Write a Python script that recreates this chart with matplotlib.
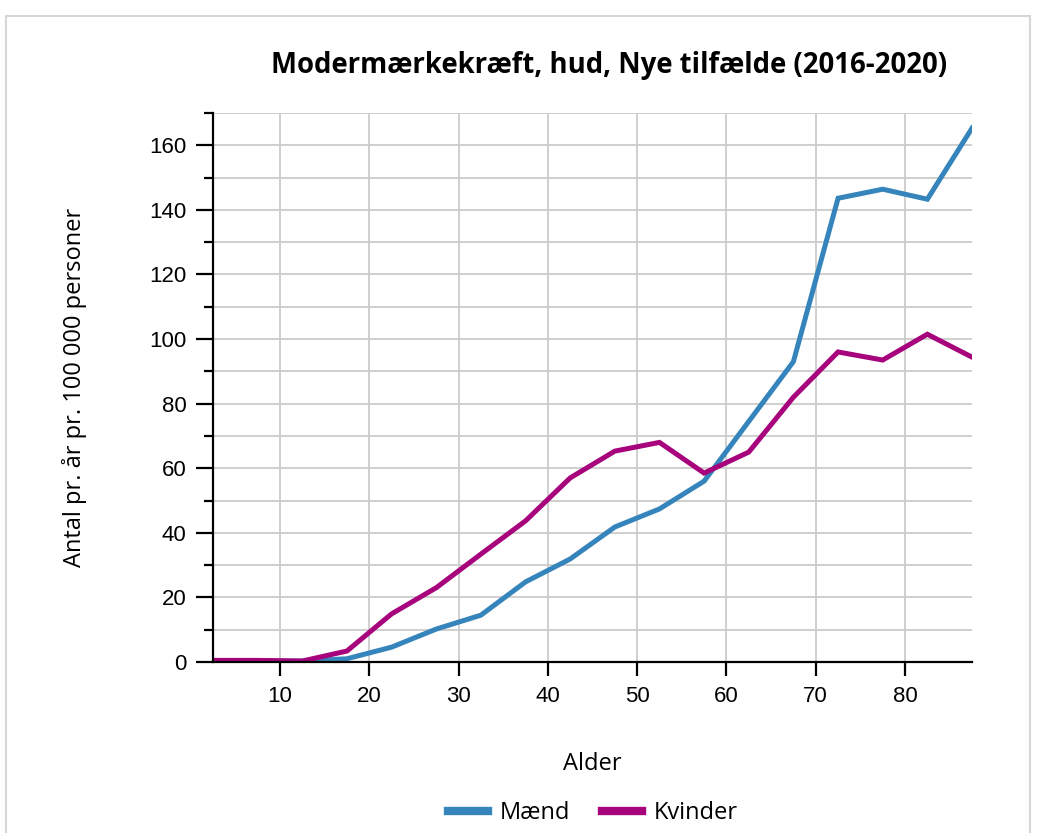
import numpy as np
import matplotlib
matplotlib.use('Agg')
import matplotlib.pyplot as plt
from matplotlib.patches import Rectangle
from matplotlib.ticker import MultipleLocator

# age group midpoints (0-4, 5-9, ..., 85+)
alder = [2.5, 7.5, 12.5, 17.5, 22.5, 27.5, 32.5, 37.5, 42.5,
         47.5, 52.5, 57.5, 62.5, 67.5, 72.5, 77.5, 82.5, 87.5]
maend = [0.3, 0.3, 0.3, 1.0, 4.6, 10.2, 14.5, 24.8, 31.9,
         41.8, 47.4, 56.0, 74.5, 93.0, 143.6, 146.4, 143.3, 165.3]
kvinder = [0.5, 0.5, 0.3, 3.4, 14.9, 23.0, 33.4, 43.7, 57.0,
           65.3, 68.0, 58.5, 65.0, 82.0, 96.0, 93.5, 101.5, 94.4]
x_ticks = [10, 20, 30, 40, 50, 60, 70, 80]

blue = '#3584bb'
magenta = '#a6037c'
sans = ['Open Sans', 'DejaVu Sans']

plt.rcParams['font.family'] = ['Liberation Sans', 'DejaVu Sans']

fig = plt.figure(figsize=(10.42, 8.33), dpi=100)
# light frame around the chart
fig.patches.append(Rectangle((6 / 1042, -0.1), 1024 / 1042, 1.1 - 16 / 833,
                             transform=fig.transFigure, fill=False,
                             edgecolor='#d6d6d6', linewidth=1.5))

ax = fig.add_axes([213 / 1042, 171 / 833, 759 / 1042, 549 / 833])
ax.plot(alder, maend, color=blue, linewidth=3.6, label='Mænd', solid_joinstyle='miter')
ax.plot(alder, kvinder, color=magenta, linewidth=3.6, label='Kvinder', solid_joinstyle='miter')

ax.set_xlim(2.5, 87.5)
ax.set_ylim(0, 170)
ax.set_xticks(x_ticks)
ax.yaxis.set_major_locator(MultipleLocator(20))
ax.yaxis.set_minor_locator(MultipleLocator(10))

ax.grid(True, which='both', axis='y', color='#cccccc', linewidth=1.3)
ax.grid(True, which='major', axis='x', color='#cccccc', linewidth=1.3)
ax.set_axisbelow(True)

for s in ['top', 'right']:
    ax.spines[s].set_visible(False)
for s in ['left', 'bottom']:
    ax.spines[s].set_linewidth(1.6)
    ax.spines[s].set_color('black')

ax.tick_params(axis='y', which='major', length=12, width=1.6, labelsize=16, pad=7)
ax.tick_params(axis='y', which='minor', length=6.5, width=1.6)
ax.tick_params(axis='x', which='major', length=10, width=1.6, labelsize=16, pad=7)

ax.set_ylabel('Antal pr. år pr. 100 000 personer', fontsize=17, family=sans, labelpad=45)
ax.set_xlabel('Alder', fontsize=17, family=sans, labelpad=33)

fig.text(609 / 1042, 1 - 65 / 833, 'Modermærkekræft, hud, Nye tilfælde (2016-2020)',
         ha='center', va='center', fontsize=19.8, fontweight='bold', family=sans)

leg = fig.legend(loc='center', bbox_to_anchor=(593 / 1042, 1 - 813 / 833), ncol=2,
                 frameon=False, handlelength=1.7, handletextpad=0.5, columnspacing=1.35,
                 prop={'family': sans, 'size': 17})
for line in leg.get_lines():
    line.set_linewidth(6)

fig.savefig('out.png', dpi=100)
